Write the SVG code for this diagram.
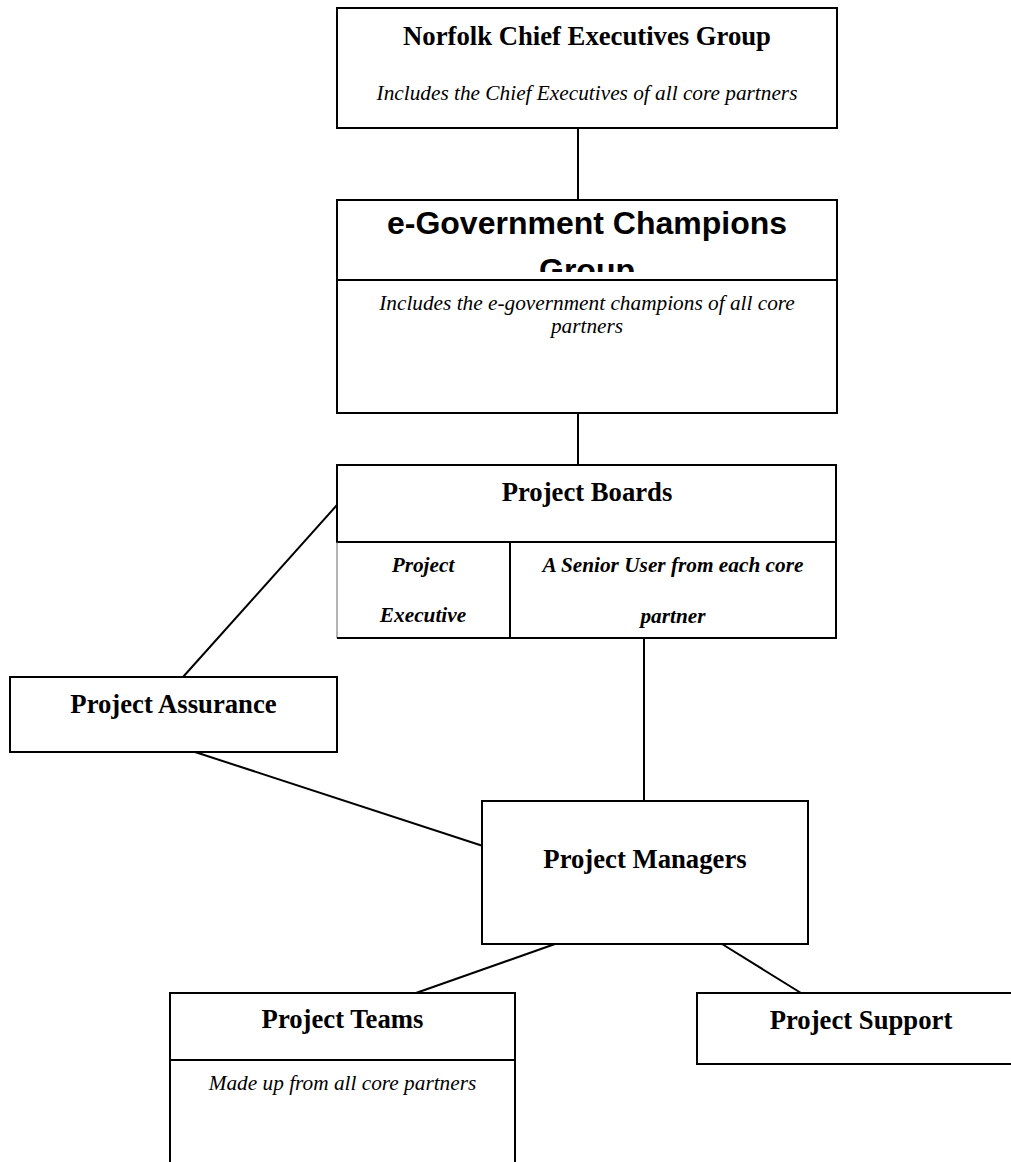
<svg xmlns="http://www.w3.org/2000/svg" width="1011" height="1162" viewBox="0 0 1011 1162">
<style>
.box{fill:#fff;stroke:#000;stroke-width:2}
.div{stroke:#000;stroke-width:2;fill:none}
.thin{stroke:#666;stroke-width:1;fill:none}
.con{stroke:#000;stroke-width:2;fill:none}
.t{font-family:"Liberation Serif","Times New Roman",serif;font-weight:bold;font-size:26.7px;text-anchor:middle;fill:#000}
.i{font-family:"Liberation Serif","Times New Roman",serif;font-style:italic;font-size:21.3px;text-anchor:middle;fill:#000}
.bi{font-family:"Liberation Serif","Times New Roman",serif;font-style:italic;font-weight:bold;font-size:21.3px;text-anchor:middle;fill:#000}
.a{font-family:"Liberation Sans",Arial,sans-serif;font-weight:bold;font-size:32px;text-anchor:middle;fill:#000}
</style>
<defs>
<clipPath id="egclip"><rect x="337" y="200" width="500" height="72"/></clipPath>
</defs>
<rect width="1011" height="1162" fill="#fff"/>
<g id="connectors">
<line class="con" x1="578" y1="128" x2="578" y2="200"/>
<line class="con" x1="578" y1="413" x2="578" y2="465"/>
<line class="con" x1="337" y1="505" x2="183" y2="677"/>
<line class="con" x1="644" y1="638" x2="644" y2="801"/>
<line class="con" x1="195" y1="752" x2="483" y2="846"/>
<line class="con" x1="555" y1="944" x2="416" y2="993"/>
<line class="con" x1="722" y1="944" x2="801" y2="993"/>
</g>
<g id="norfolk">
<rect class="box" x="337" y="8" width="500" height="120"/>
<text class="t" x="587" y="45">Norfolk Chief Executives Group</text>
<text class="i" x="587" y="100">Includes the Chief Executives of all core partners</text>
</g>
<g id="egov">
<rect class="box" x="337" y="200" width="500" height="213"/>
<line class="div" x1="337" y1="280" x2="837" y2="280"/>
<g clip-path="url(#egclip)">
<text class="a" x="587" y="234">e-Government Champions</text>
<text class="a" x="587" y="281">Group</text>
</g>
<text class="i" x="587" y="310">Includes the e-government champions of all core</text>
<text class="i" x="587" y="333">partners</text>
</g>
<g id="boards">
<rect class="box" x="337" y="465" width="499" height="77"/>
<text class="t" x="587" y="501">Project Boards</text>
<line class="thin" x1="337" y1="542" x2="337" y2="638"/>
<line class="div" x1="337" y1="638" x2="510" y2="638"/>
<rect class="box" x="510" y="542" width="326" height="96"/>
<text class="bi" x="423" y="572">Project</text>
<text class="bi" x="423" y="622">Executive</text>
<text class="bi" x="673" y="572">A Senior User from each core</text>
<text class="bi" x="673" y="623">partner</text>
</g>
<g id="assurance">
<rect class="box" x="10" y="677" width="327" height="75"/>
<text class="t" x="173.5" y="713">Project Assurance</text>
</g>
<g id="managers">
<rect class="box" x="482" y="801" width="326" height="143"/>
<text class="t" x="645" y="868">Project Managers</text>
</g>
<g id="teams">
<rect class="box" x="170" y="993" width="345" height="180"/>
<line class="div" x1="170" y1="1060" x2="515" y2="1060"/>
<text class="t" x="342.5" y="1028">Project Teams</text>
<text class="i" x="342.5" y="1090">Made up from all core partners</text>
</g>
<g id="support">
<rect class="box" x="697" y="993" width="330" height="71"/>
<text class="t" x="861" y="1029">Project Support</text>
</g>
</svg>
